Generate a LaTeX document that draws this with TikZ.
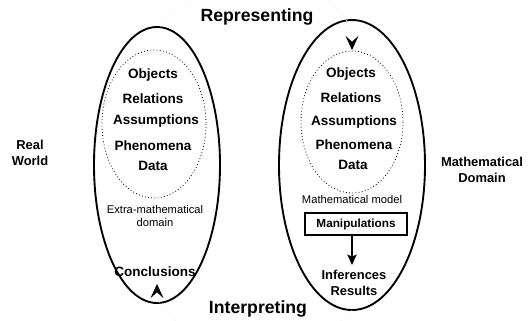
\documentclass[tikz,border=0pt]{standalone}
\usepackage{fontspec}
\setmainfont{Liberation Sans}
\usetikzlibrary{arrows.meta}

\begin{document}
\begin{tikzpicture}[x=0.85pt,y=-0.85pt,
  worldline/.style={line width=1.6pt, color=black},
  inner/.style={line width=0.7pt, dotted, color=black},
  item/.style={font=\fontsize{11.5}{13}\selectfont\bfseries},
  small/.style={font=\fontsize{9.5}{11.5}\selectfont, align=center},
  side/.style={font=\fontsize{11}{13}\selectfont\bfseries, align=center},
  phase/.style={font=\fontsize{15}{17}\selectfont\bfseries},
  ghost/.style={color=black!7, densely dotted, line width=0.6pt,
    -{Stealth[black, length=12pt, width=11pt, inset=5pt]}}]
\useasboundingbox (0,0) rectangle (530,320);
\coordinate (L) at (157,165);
\coordinate (R) at (352,165);
\coordinate (repstart) at (160,27);
\coordinate (reptip) at (352,50);
\coordinate (intstart) at (352,310);
\coordinate (inttip) at (157,284);

  % the two domains
  \draw[worldline] (L) ellipse [x radius=63, y radius=138];
  \draw[worldline] (R) ellipse [x radius=73, y radius=145];
  \draw[inner] (154,124) ellipse [x radius=52, y radius=74];
  \draw[inner] (352,122) ellipse [x radius=51, y radius=71];

  % real world
  \node[item] (lobj) at (153,75) {Objects};
  \node[item] (lrel) at (153,99) {Relations};
  \node[item] (lass) at (156,121) {Assumptions};
  \node[item] (lphe) at (153,146) {Phenomena};
  \node[item] (ldat) at (153,166) {Data};
  \node[small] (lextra) at (155,216) {Extra-mathematical\\domain};
  \node[item] (lconc) at (155,272) {Conclusions};

  % mathematical domain
  \node[item] (robj) at (351,74) {Objects};
  \node[item] (rrel) at (351,98) {Relations};
  \node[item] (rass) at (354,122) {Assumptions};
  \node[item] (rphe) at (354,145) {Phenomena};
  \node[item] (rdat) at (353,165) {Data};
  \node[small] (rmodel) at (352,199) {Mathematical model};
  \node[item, font=\fontsize{10}{12}\selectfont\bfseries, draw, line width=1.2pt,
        minimum width=87pt, minimum height=18.5pt, inner sep=2pt] (manip) at (356,224) {Manipulations};
  \node[item, font=\fontsize{11}{13}\selectfont\bfseries, align=center] (infer) at (354,283) {Inferences\\Results};
  \draw[line width=1.4pt, -{Stealth[length=9pt, width=8pt, inset=2pt]}] (manip.south -| 352,0) -- (352,265);

  % side labels
  \node[side] (real) at (30,153) {Real\\World};
  \node[side] (math) at (482,170) {Mathematical\\Domain};

  % representing / interpreting
  \draw[ghost] (repstart) .. controls (200,-30) and (352,-30) .. (reptip);
  \draw[ghost] (intstart) .. controls (330,350) and (157,350) .. (inttip);
  \node[phase] (rep) at (257,17) {Representing};
  \node[phase] (int) at (258,309) {Interpreting};
\end{tikzpicture}
\end{document}
